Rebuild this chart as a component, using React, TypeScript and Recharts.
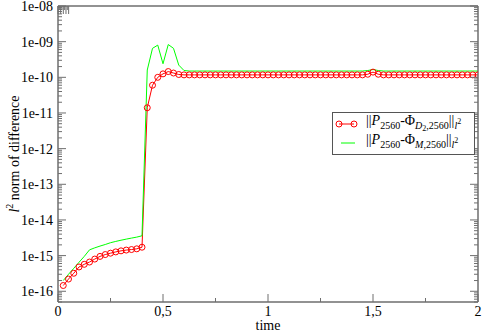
import { LineChart, Line, XAxis, YAxis, Legend } from "recharts";

const FONT = "Liberation Serif, Times New Roman, serif";
const AXIS = "#6e6e6e";

// time steps
const times = [
  0.025, 0.05, 0.075, 0.1, 0.125, 0.15, 0.175, 0.2, 0.225, 0.25,
  0.275, 0.3, 0.325, 0.35, 0.375, 0.4, 0.425, 0.45, 0.475, 0.5,
  0.525, 0.55, 0.575, 0.6, 0.625, 0.65, 0.675, 0.7, 0.725, 0.75,
  0.775, 0.8, 0.825, 0.85, 0.875, 0.9, 0.925, 0.95, 0.975, 1,
  1.025, 1.05, 1.075, 1.1, 1.125, 1.15, 1.175, 1.2, 1.225, 1.25,
  1.275, 1.3, 1.325, 1.35, 1.375, 1.4, 1.425, 1.45, 1.475, 1.5,
  1.525, 1.55, 1.575, 1.6, 1.625, 1.65, 1.675, 1.7, 1.725, 1.75,
  1.775, 1.8, 1.825, 1.85, 1.875, 1.9, 1.925, 1.95, 1.975, 2,
];

// ||P - Phi_D2|| (red, circles)
const normD2 = [
  1.45e-16, 2.2e-16, 3.2e-16, 4.8e-16, 5.7e-16, 6.6e-16, 8.0e-16, 9.5e-16, 1.07e-15, 1.17e-15,
  1.27e-15, 1.36e-15, 1.43e-15, 1.48e-15, 1.55e-15, 1.72e-15, 1.4e-11, 6.0e-11, 1.0e-10, 1.25e-10,
  1.45e-10, 1.32e-10, 1.2e-10, 1.17e-10, 1.17e-10, 1.17e-10, 1.17e-10, 1.17e-10, 1.17e-10, 1.17e-10,
  1.17e-10, 1.17e-10, 1.17e-10, 1.17e-10, 1.17e-10, 1.17e-10, 1.17e-10, 1.17e-10, 1.17e-10, 1.17e-10,
  1.17e-10, 1.17e-10, 1.17e-10, 1.17e-10, 1.17e-10, 1.17e-10, 1.17e-10, 1.17e-10, 1.17e-10, 1.17e-10,
  1.17e-10, 1.17e-10, 1.17e-10, 1.17e-10, 1.17e-10, 1.17e-10, 1.17e-10, 1.17e-10, 1.22e-10, 1.4e-10,
  1.22e-10, 1.17e-10, 1.17e-10, 1.17e-10, 1.17e-10, 1.17e-10, 1.17e-10, 1.17e-10, 1.17e-10, 1.17e-10,
  1.17e-10, 1.17e-10, 1.17e-10, 1.17e-10, 1.17e-10, 1.17e-10, 1.17e-10, 1.17e-10, 1.17e-10, 1.17e-10,
];

// ||P - Phi_M|| (green)
const normM = [
  2.0e-16, 3.0e-16, 4.4e-16, 6.5e-16, 9.5e-16, 1.45e-15, 1.65e-15, 1.85e-15, 2.05e-15, 2.3e-15,
  2.5e-15, 2.7e-15, 2.9e-15, 3.1e-15, 3.3e-15, 3.6e-15, 1.6e-10, 6.5e-10, 8.0e-10, 2.4e-10,
  8.3e-10, 6.5e-10, 2.2e-10, 1.55e-10, 1.5e-10, 1.5e-10, 1.5e-10, 1.5e-10, 1.5e-10, 1.5e-10,
  1.5e-10, 1.5e-10, 1.5e-10, 1.5e-10, 1.5e-10, 1.5e-10, 1.5e-10, 1.5e-10, 1.5e-10, 1.5e-10,
  1.5e-10, 1.5e-10, 1.5e-10, 1.5e-10, 1.5e-10, 1.5e-10, 1.5e-10, 1.5e-10, 1.5e-10, 1.5e-10,
  1.5e-10, 1.5e-10, 1.5e-10, 1.5e-10, 1.5e-10, 1.5e-10, 1.5e-10, 1.5e-10, 1.55e-10, 1.65e-10,
  1.55e-10, 1.5e-10, 1.5e-10, 1.5e-10, 1.5e-10, 1.5e-10, 1.5e-10, 1.5e-10, 1.5e-10, 1.5e-10,
  1.5e-10, 1.5e-10, 1.5e-10, 1.5e-10, 1.5e-10, 1.5e-10, 1.5e-10, 1.5e-10, 1.5e-10, 1.5e-10,
];

const xMajor = [0, 0.5, 1, 1.5, 2];
const xLabels = ["0", "0,5", "1", "1,5", "2"];
const xMinor = [0.25, 0.75, 1.25, 1.75];

const yMajor = [1e-16, 1e-15, 1e-14, 1e-13, 1e-12, 1e-11, 1e-10, 1e-9, 1e-8];
const yLabels = ["1e-16", "1e-15", "1e-14", "1e-13", "1e-12", "1e-11", "1e-10", "1e-09", "1e-08"];

const yMin = 5e-17;
const yMax = 1e-8;

// log minor ticks 2..9 per decade
const yMinor: number[] = [];
for (let e = -17; e <= -9; e++) {
  for (let m = 2; m <= 9; m++) {
    const v = Number(`${m}e${e}`);
    if (v >= yMin && v <= yMax) yMinor.push(v);
  }
}

const xTicks = [...xMajor, ...xMinor].sort((a, b) => a - b);
const yTicks = [...yMajor, ...yMinor].sort((a, b) => a - b);

const data = times.map((t, i) => ({ t, d2: normD2[i], m: normM[i] }));

const txt = { fontFamily: FONT, fontSize: 14, fill: "#000" };

function BottomTick(props: any) {
  const { x, y, payload } = props;
  const i = xMajor.indexOf(payload.value);
  const len = i >= 0 ? 8 : 4;
  return (
    <g>
      <line x1={x} y1={y} x2={x} y2={y - len} stroke={AXIS} />
      {i >= 0 && (
        <text x={x} y={y + 14} textAnchor="middle" style={txt}>
          {xLabels[i]}
        </text>
      )}
    </g>
  );
}

function TopTick(props: any) {
  const { x, y, payload } = props;
  const len = xMajor.indexOf(payload.value) >= 0 ? 8 : 4;
  return <line x1={x} y1={y} x2={x} y2={y + len} stroke={AXIS} />;
}

function LeftTick(props: any) {
  const { x, y, payload } = props;
  const i = yMajor.indexOf(payload.value);
  const len = i >= 0 ? 8 : 4;
  return (
    <g>
      <line x1={x} y1={y} x2={x + len} y2={y} stroke={AXIS} />
      {i >= 0 && (
        <text x={x - 5} y={y + 5} textAnchor="end" style={txt}>
          {yLabels[i]}
        </text>
      )}
    </g>
  );
}

function RightTick(props: any) {
  const { x, y, payload } = props;
  const len = yMajor.indexOf(payload.value) >= 0 ? 8 : 4;
  return <line x1={x} y1={y} x2={x - len} y2={y} stroke={AXIS} />;
}

function XTitle(props: any) {
  const vb = props.viewBox;
  return (
    <text x={vb.x + vb.width / 2} y={vb.y + 28} textAnchor="middle" style={txt}>
      time
    </text>
  );
}

function YTitle(props: any) {
  const vb = props.viewBox;
  const cx = vb.x + 19;
  const cy = vb.y + vb.height / 2;
  return (
    <text x={cx} y={cy} transform={`rotate(-90 ${cx} ${cy})`} textAnchor="middle" style={txt}>
      <tspan fontStyle="italic">l</tspan>
      <tspan dy={-6} style={{ fontSize: 10 }}>2</tspan>
      <tspan dy={6}> norm of difference</tspan>
    </text>
  );
}

const sub = { fontSize: 10, position: "relative" as const, top: 4 };
const sub2 = { fontSize: 8, position: "relative" as const, top: 2 };
const sup = { fontSize: 8, position: "relative" as const, top: -5 };

function LegendBox() {
  return (
    <div
      style={{
        border: "1px solid #555",
        background: "#fff",
        width: 141,
        height: 40,
        fontFamily: FONT,
        fontSize: 14,
        lineHeight: "18px",
        padding: "1px 0 0 0",
        boxSizing: "content-box",
      }}
    >
      <div style={{ display: "flex", alignItems: "center", height: 19 }}>
        <svg width={33} height={10} style={{ flex: "none" }}>
          <line x1={6} y1={5} x2={21} y2={5} stroke="#ff0000" />
          <circle cx={6} cy={5} r={3} fill="none" stroke="#ff0000" />
          <circle cx={21} cy={5} r={3} fill="none" stroke="#ff0000" />
        </svg>
        <span style={{ whiteSpace: "nowrap", marginTop: -4 }}>
          ||<i>P</i>
          <span style={sub}>2560</span>-Φ
          <span style={sub}>
            <i>D</i>
            <span style={sub2}>2</span>,2560
          </span>
          ||
          <span style={sub}>
            <i>l</i>
            <span style={sup}>2</span>
          </span>
        </span>
      </div>
      <div style={{ display: "flex", alignItems: "center", height: 19 }}>
        <svg width={33} height={10} style={{ flex: "none" }}>
          <line x1={8} y1={5} x2={22} y2={5} stroke="#00ff00" />
        </svg>
        <span style={{ whiteSpace: "nowrap", marginTop: -4 }}>
          ||<i>P</i>
          <span style={sub}>2560</span>-Φ
          <span style={sub}>
            <i>M</i>,2560
          </span>
          ||
          <span style={sub}>
            <i>l</i>
            <span style={sup}>2</span>
          </span>
        </span>
      </div>
    </div>
  );
}

export default function App() {
  return (
    <div style={{ position: "absolute", left: 0, top: 0, background: "#fff" }}>
      <LineChart width={485} height={333} data={data} margin={{ top: 5, right: 6, bottom: 0, left: 0 }}>
        <XAxis
          dataKey="t"
          type="number"
          domain={[0, 2]}
          allowDataOverflow
          ticks={xTicks}
          interval={0}
          tickSize={0}
          tickMargin={0}
          tick={<BottomTick />}
          axisLine={{ stroke: AXIS, strokeWidth: 1.5 }}
          tickLine={false}
          height={31}
          label={{ content: <XTitle /> }}
        />
        <XAxis
          xAxisId="top"
          orientation="top"
          type="number"
          domain={[0, 2]}
          allowDataOverflow
          ticks={xTicks}
          interval={0}
          tickSize={0}
          tickMargin={0}
          tick={<TopTick />}
          axisLine={{ stroke: AXIS, strokeWidth: 1.5 }}
          tickLine={false}
          height={1}
        />
        <YAxis
          type="number"
          scale="log"
          domain={[yMin, yMax]}
          allowDataOverflow
          ticks={yTicks}
          interval={0}
          tickSize={0}
          tickMargin={0}
          tick={<LeftTick />}
          axisLine={{ stroke: AXIS, strokeWidth: 1.5 }}
          tickLine={false}
          width={58}
          label={{ content: <YTitle /> }}
        />
        <YAxis
          yAxisId="right"
          orientation="right"
          type="number"
          scale="log"
          domain={[yMin, yMax]}
          allowDataOverflow
          ticks={yTicks}
          interval={0}
          tickSize={0}
          tickMargin={0}
          tick={<RightTick />}
          axisLine={{ stroke: AXIS, strokeWidth: 1.5 }}
          tickLine={false}
          width={1}
        />
        <Legend
          layout="horizontal"
          verticalAlign="middle"
          align="center"
          wrapperStyle={{ left: 332, top: 112, width: 143, height: 42 }}
          content={<LegendBox />}
        />
        <Line
          dataKey="d2"
          stroke="#ff0000"
          strokeWidth={1}
          dot={{ r: 3, stroke: "#ff0000", strokeWidth: 1, fill: "none" }}
          activeDot={false}
          isAnimationActive={false}
        />
        <Line
          dataKey="m"
          stroke="#00ff00"
          strokeWidth={1}
          dot={false}
          activeDot={false}
          isAnimationActive={false}
        />
      </LineChart>
    </div>
  );
}
